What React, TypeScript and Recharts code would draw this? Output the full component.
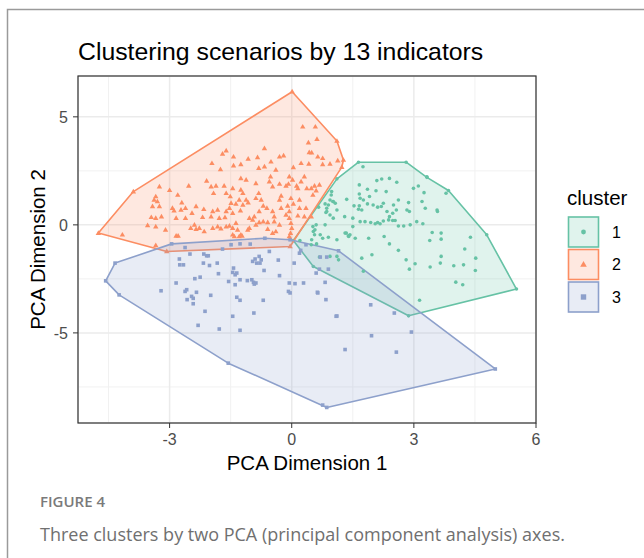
import React from "react";
import { ScatterChart, Scatter, XAxis, YAxis, CartesianGrid } from "recharts";

const W = 644;
const H = 558;
const FONT = "'Liberation Sans', Arial, sans-serif";
const COLORS = ["#66c2a5", "#fc8d62", "#8da0cb"];
const CLUSTERS = ["1", "2", "3"];

const X_DOMAIN = [-5.25, 6];
const Y_DOMAIN = [-9.17, 6.89];
const X_TICKS = [-3, 0, 3, 6];
const Y_TICKS = [-5, 0, 5];
const X_MINOR = [-4.5, -1.5, 1.5, 4.5];
const Y_MINOR = [-7.5, -2.5, 2.5];

// convex hull vertices (in drawing order)
const hull1 = [[1.64, 2.9], [2.81, 2.9], [3.32, 2.2], [3.85, 1.59], [4.79, -0.46], [5.52, -2.97], [2.87, -4.21], [0.53, -1.93], [0.04, -0.72], [1.11, 2.13]];
const hull2 = [[-4.75, -0.38], [-3.89, 1.54], [0.01, 6.16], [1.11, 3.88], [1.27, 3.0], [1.23, 2.67], [-0.04, -1.0], [-3.07, -1.23]];
const hull3 = [[-4.57, -2.59], [-4.34, -1.77], [-2.95, -0.88], [-0.66, -0.62], [-0.04, -0.69], [1.15, -1.2], [5.0, -6.67], [0.86, -8.45], [-1.56, -6.4], [-4.24, -3.24]];

// points inside the hulls
const pts1 = [[1.75,2.69],[2.09,2.05],[2.21,2.12],[2.4,2.15],[2.58,1.97],[1.66,1.85],[1.86,1.65],[2.07,1.58],[2.32,1.54],[2.99,1.69],[3.11,1.8],[3.25,1.49],[3.79,1.46],[3.32,2.23],[0.98,1.54],[0.94,1.15],[1.02,1.08],[1.07,1.0],[0.9,0.92],[1.35,1.18],[1.66,1.43],[1.91,1.31],[1.68,1.23],[1.76,1.15],[1.53,0.88],[1.66,0.88],[1.72,0.69],[1.64,0.72],[1.86,0.97],[2.0,0.92],[2.11,0.82],[2.2,0.85],[2.25,1.0],[2.5,0.92],[2.62,1.15],[2.57,0.69],[2.48,0.54],[2.34,0.62],[2.4,0.38],[2.87,1.03],[2.83,0.69],[2.89,0.62],[3.2,1.08],[3.28,0.77],[3.57,0.69],[3.58,0.62],[0.66,0.82],[0.82,0.97],[0.86,0.77],[0.86,0.62],[0.94,0.46],[1.02,0.31],[1.5,0.31],[1.68,0.15],[1.8,0.15],[1.94,0.11],[2.05,0.05],[2.11,0.11],[2.17,0.05],[2.25,0.18],[2.38,0.23],[2.48,0.2],[2.54,0.2],[2.62,-0.05],[2.75,-0.05],[2.91,0],[3.07,0.15],[3.22,0.05],[0.6,0],[0.82,0],[0.53,-0.31],[0.57,-0.23],[0.7,-0.46],[1.31,-0.38],[1.39,-0.51],[1.56,-0.62],[1.11,-0.69],[0.9,-0.57],[1.89,-0.62],[2.27,-0.54],[2.4,-0.88],[2.62,-1.18],[2.81,-1.62],[3.03,-1.8],[3.39,-0.72],[3.45,-0.35],[3.67,-0.38],[3.67,-0.66],[4.39,-0.57],[4.25,-1.12],[3.67,-1.46],[3.65,-1.77],[3.4,-1.95],[2.89,-2.05],[3.98,-1.89],[4.22,-1.85],[4.52,-1.54],[4.51,-2.11],[4.03,-2.65],[4.2,-2.77],[3.14,-3.49],[0.49,-0.69],[0.2,-0.72],[0.68,-1.49],[1.15,-1.62],[1.72,-1.54],[1.76,-2.15],[1.97,-1.38],[0.97,1.38],[1.01,1.08],[0.84,0.57],[1.11,0.69],[1.3,0.38],[1.34,-0.38],[1.4,-0.54],[1.5,-0.08],[0.52,-0.08],[0.56,-0.46],[0.76,-0.62],[0.48,-0.92],[0.61,-0.88],[0.94,-1.46],[1.11,-1.46],[1.43,-0.46]];

const pts2 = [[0.27,4.54],[0.58,4.54],[0.62,3.97],[0.41,3.8],[0.43,3.35],[0.49,3.34],[0.64,3.15],[0.76,3.08],[1.13,2.97],[0.94,2.82],[0.76,2.8],[0.42,2.82],[0.23,2.85],[0.04,2.66],[-0.2,3.2],[-0.3,3.15],[-0.67,3.54],[-0.84,3.12],[-1.07,3.05],[-1.25,2.8],[-1.43,3.15],[-1.43,2.74],[-1.61,3.43],[-1.7,3.28],[-1.75,2.57],[-1.96,2.85],[-2.09,2.03],[-3.25,1.77],[-3.0,1.6],[-2.8,1.38],[-2.53,1.8],[-3.34,1.31],[-3.38,1.15],[-3.3,1.08],[-3.42,0.85],[-3.25,0.85],[-2.93,0.77],[-2.89,0.65],[-2.72,0.69],[-2.61,0.77],[-2.84,0.31],[-2.61,0.31],[-2.45,0.54],[-3.45,0.35],[-3.34,0.31],[-3.2,0.38],[-3.54,-0.03],[-3.34,-0.08],[-3.1,-0.23],[-2.84,-0.51],[-2.79,-0.51],[-4.16,-0.46],[-3.34,-0.95],[-2.35,-0.2],[-2.48,-0.15],[-2.19,0.35],[-2.16,0.72],[-1.98,1.77],[-1.86,1.8],[-1.92,1.46],[-1.66,1.8],[-1.61,1.46],[-1.51,1.31],[-1.45,1.69],[-1.25,1.62],[-1.2,1.46],[-1.49,1.0],[-1.37,0.97],[-1.12,1.15],[-1.07,1.03],[-0.88,1.23],[-0.81,1.46],[-0.75,1.15],[-0.7,0.88],[-0.61,0.77],[-0.55,2.0],[-0.47,1.77],[-0.52,2.23],[-0.3,1.89],[-0.26,1.34],[-0.06,2.23],[0.02,2.08],[-0.08,1.89],[-0.14,1.8],[0.12,1.8],[0.15,1.69],[0.31,2.23],[0.23,2.0],[0.37,1.69],[0.48,1.69],[0.56,1.8],[0.6,1.58],[0.68,1.85],[0.52,1.38],[0.19,1.15],[-0.02,1.23],[0.04,0.97],[-0.3,1.15],[-0.26,0.77],[-0.1,0.88],[-0.06,0.62],[-0.47,0.62],[-0.43,0.38],[-0.8,0.62],[-0.92,0.38],[-1.04,0.31],[-1.29,1.15],[-1.2,0.92],[-1.26,0.66],[-1.53,0.77],[-1.61,0.62],[-1.45,0.54],[-1.82,0.69],[-1.94,0.62],[-1.98,0.38],[-1.78,0.31],[-1.64,0.34],[-1.61,-0.08],[-1.53,-0.05],[-1.45,-0.15],[-1.37,0.08],[-1.33,-0.23],[-1.25,-0.46],[-1.29,-0.54],[-1.82,-0.08],[-1.74,-0.18],[-1.94,-0.15],[-2.27,-0.15],[-2.15,-0.31],[-1.08,-0.23],[-1.04,-0.15],[-0.8,0.11],[-0.7,0.15],[-0.59,0.11],[-0.43,0.15],[-0.3,0],[-0.14,0.46],[-0.06,0.31],[-0.02,0.08],[0.0,-0.15],[-1.45,-0.46],[-1.41,-0.54],[-1.22,-0.51],[-0.03,-0.38],[-0.06,-0.54],[0.19,0.77],[0.35,0.77],[0.48,0.38],[0.15,0.42],[0.31,0.38],[-0.39,-0.31],[-0.47,-0.38],[-0.59,-0.2],[-0.88,0],[-0.96,0.23],[-2.39,0],[-2.35,0.85],[-2.7,1.03],[-0.67,2.69],[-0.81,2.62],[-0.51,2.92],[-0.39,2.54],[-1.25,2.15],[-1.12,2.08],[-0.88,1.92]];

const pts3 = [[-2.62,-1.05],[-2.76,-1.58],[-2.75,-1.85],[-2.66,-1.85],[-2.5,-1.35],[-2.16,-1.35],[-2.09,-1.43],[-2.05,-1.43],[-2.17,-1.77],[-2.02,-1.88],[-1.83,-1.77],[-1.8,-2.26],[-2.38,-2.49],[-2.25,-2.42],[-2.84,-2.69],[-3.21,-3.05],[-2.58,-3.0],[-2.62,-3.08],[-2.34,-3.12],[-2.46,-3.31],[-2.42,-3.4],[-2.57,-3.46],[-2.42,-3.65],[-1.99,-3.26],[-2.13,-4.0],[-2.3,-4.65],[-1.78,-4.82],[-1.27,-4.88],[-1.45,-4.23],[-1.35,-3.35],[-1.27,-3.49],[-0.93,-4.08],[-0.7,-3.49],[-1.49,-0.92],[-1.27,-0.88],[-1.02,-0.89],[-1.7,-1.12],[-1.43,-2.0],[-1.45,-2.2],[-1.39,-2.31],[-1.35,-2.23],[-1.55,-2.62],[-1.39,-2.77],[-1.27,-2.54],[-1.09,-2.58],[-0.98,-2.54],[-0.94,-2.66],[-0.88,-2.69],[-0.92,-2.74],[-0.96,-1.69],[-0.9,-1.58],[-0.8,-1.46],[-0.75,-1.62],[-0.86,-1.77],[-0.78,-1.77],[-0.68,-2.11],[-0.55,-1.23],[-0.33,-1.63],[-0.3,-2.35],[-0.06,-2.69],[0.08,-2.72],[0.29,-2.69],[-0.08,-3.08],[-0.04,-3.15],[0.06,-1.77],[0.19,-1.31],[0.22,-1.18],[0.35,-0.92],[0.6,-2.23],[0.63,-3.12],[0.84,-3.46],[0.82,-2.66],[1.09,-4.23],[1.31,-5.77],[1.11,-4.22],[1.94,-3.7],[2.52,-4.08],[1.96,-5.13],[2.57,-5.89],[2.94,-4.96],[0.76,-8.34],[0.68,-2.05],[0.9,-2.05],[0.7,-1.49],[0.86,-1.49],[0.64,-3.15]];

const toRows = (arr: number[][]) => arr.map(([x, y]) => ({ x, y }));

const Dot = (p: any) => <circle cx={p.cx} cy={p.cy} r={1.8} fill={COLORS[0]} />;
const Tri = (p: any) => (
  <path d={`M${p.cx},${p.cy - 2.9}L${p.cx + 2.7},${p.cy + 1.8}L${p.cx - 2.7},${p.cy + 1.8}Z`} fill={COLORS[1]} />
);
const Sq = (p: any) => <rect x={p.cx - 1.8} y={p.cy - 1.8} width={3.6} height={3.6} fill={COLORS[2]} />;
const SHAPES = [Dot, Tri, Sq];

// polygon drawn from the scatter's own projected points
const hullPath = (color: string) => (props: any) => {
  const pts: { x: number; y: number }[] = props.points || [];
  const d = pts.map((q, i) => `${i === 0 ? "M" : "L"}${q.x},${q.y}`).join("") + "Z";
  return <path d={d} fill={color} fillOpacity={0.2} stroke={color} strokeWidth={1.6} strokeLinejoin="round" />;
};

const HULLS = [hull1, hull2, hull3];
const POINTS = [pts1, pts2, pts3];

const tickStyle = { fill: "#4d4d4d", fontSize: 16, fontFamily: FONT };

export default function App() {
  return (
    <div style={{ position: "absolute", left: 0, top: 0, width: W, height: H, background: "#fff", overflow: "hidden" }}>
      <div style={{ position: "absolute", left: 0, top: 0 }}>
        <ScatterChart width={W} height={H} margin={{ top: 76, right: 108, bottom: 105, left: 18 }}>
          <CartesianGrid verticalValues={X_MINOR} horizontalValues={Y_MINOR} stroke="#f1f1f1" strokeWidth={1} />
          <CartesianGrid stroke="#ebebeb" strokeWidth={1.5} />
          <XAxis type="number" dataKey="x" domain={X_DOMAIN} ticks={X_TICKS} interval={0} allowDataOverflow
            axisLine={false} tickLine={{ stroke: "#333" }} tickSize={5} tickMargin={6} tick={tickStyle} height={30} />
          <YAxis type="number" dataKey="y" domain={Y_DOMAIN} ticks={Y_TICKS} interval={0} allowDataOverflow
            axisLine={false} tickLine={{ stroke: "#333" }} tickSize={5} tickMargin={5} tick={tickStyle} width={60} />
          {HULLS.map((h, i) => (
            <Scatter key={"h" + i} data={toRows(h)} fill={COLORS[i]} line={hullPath(COLORS[i])} shape={SHAPES[i]} isAnimationActive={false} />
          ))}
          {POINTS.map((p, i) => (
            <Scatter key={"p" + i} data={toRows(p)} fill={COLORS[i]} shape={SHAPES[i]} isAnimationActive={false} />
          ))}
        </ScatterChart>
      </div>
      <svg width={W} height={H} style={{ position: "absolute", left: 0, top: 0, pointerEvents: "none" }}>
        <path d={`M7.5,${H}L7.5,9.5L${W},9.5`} fill="none" stroke="#9a9a9a" strokeWidth={1.5} />
        <rect x={78} y={76} width={458} height={347} fill="none" stroke="#333" strokeWidth={1.2} />
        <text x={78} y={60} fontFamily={FONT} fontSize={24.8} fill="#000">Clustering scenarios by 13 indicators</text>
        <text x={307} y={470} textAnchor="middle" fontFamily={FONT} fontSize={20.5} fill="#000">PCA Dimension 1</text>
        <text transform="translate(45,249.5) rotate(-90)" textAnchor="middle" fontFamily={FONT} fontSize={20.5} fill="#000">PCA Dimension 2</text>
        <text x={567} y={205} fontFamily={FONT} fontSize={20.5} fill="#000">cluster</text>
        {CLUSTERS.map((c, i) => {
          const y = 217 + i * 32.5;
          const cx = 583.5;
          const cy = y + 15;
          return (
            <g key={c}>
              <rect x={568.5} y={y} width={30} height={30} fill={COLORS[i]} fillOpacity={0.2} stroke={COLORS[i]} strokeWidth={1.6} />
              {i === 0 && <circle cx={cx} cy={cy} r={2.4} fill={COLORS[0]} />}
              {i === 1 && <path d={`M${cx},${cy - 3.5}L${cx + 3.3},${cy + 2.2}L${cx - 3.3},${cy + 2.2}Z`} fill={COLORS[1]} />}
              {i === 2 && <rect x={cx - 2.7} y={cy - 2.7} width={5.4} height={5.4} fill={COLORS[2]} />}
              <text x={612} y={cy + 5.8} fontFamily={FONT} fontSize={16} fill="#000">{c}</text>
            </g>
          );
        })}
        <text x={40} y={507} fontFamily="'Open Sans', sans-serif" fontSize={15} fontWeight={600} fill="#7a7a7a">FIGURE 4</text>
        <text x={40} y={541} fontFamily="'Open Sans', sans-serif" fontSize={18} fill="#707070">Three clusters by two PCA (principal component analysis) axes.</text>
      </svg>
    </div>
  );
}
